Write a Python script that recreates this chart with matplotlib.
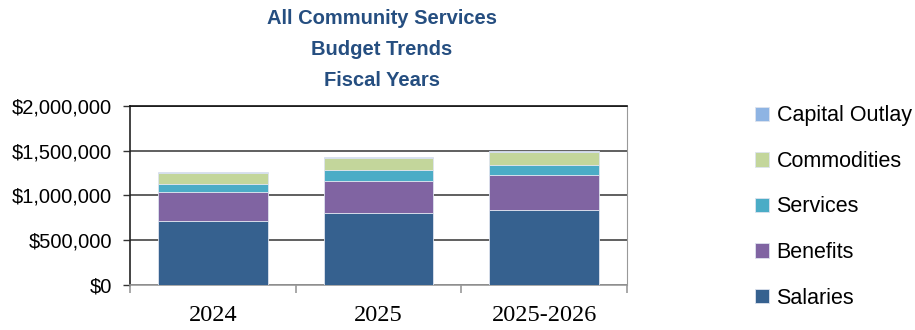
import matplotlib.pyplot as plt
import numpy as np
from matplotlib.ticker import FuncFormatter, FixedLocator

years = ["2024", "2025", "2025-2026"]
salaries = [712000, 802000, 840000]
benefits = [325000, 363000, 388000]
services = [86000, 115000, 116000]
commodities = [123000, 138000, 138000]
capital = [10000, 8000, 11000]

series = [("Salaries", salaries, "#36618F"),
          ("Benefits", benefits, "#8064A2"),
          ("Services", services, "#4BACC6"),
          ("Commodities", commodities, "#C3D69B"),
          ("Capital Outlay", capital, "#8EB4E3")]

fig = plt.figure(figsize=(9.15, 3.3), dpi=100)
ax = fig.add_axes([130/915, 45.5/330, 497/915, 178.5/330])

x = np.arange(len(years))
bottom = np.zeros(len(years))
handles = []
for name, vals, col in series:
    h = ax.bar(x, vals, 0.66, bottom=bottom, color=col, edgecolor="#dde3ee",
               linewidth=0.6, label=name, zorder=3)
    handles.append(h)
    bottom += np.array(vals)

ax.set_xlim(-0.5, 2.5)
ax.set_ylim(0, 2000000)
ax.set_yticks([0, 500000, 1000000, 1500000, 2000000])
ax.yaxis.set_major_formatter(FuncFormatter(lambda v, p: "${:,.0f}".format(v)))
ax.grid(axis="y", color="#444444", linewidth=1.2, zorder=0)
ax.tick_params(axis="y", labelsize=14.5, length=5, width=1, color="#333333", pad=8)
for t in ax.get_yticklabels():
    t.set_fontfamily("Liberation Sans")

ax.set_xticks(x)
ax.set_xticklabels(years, fontfamily="Liberation Serif", fontsize=17.5)
ax.tick_params(axis="x", which="major", length=0, pad=15)
ax.xaxis.set_minor_locator(FixedLocator([-0.5, 0.5, 1.5, 2.5]))
ax.tick_params(axis="x", which="minor", length=6, width=1.2, color="#999999")

ax.spines["left"].set_color("#222222")
ax.spines["left"].set_linewidth(1.2)
ax.spines["top"].set_color("#111111")
ax.spines["top"].set_linewidth(1.2)
ax.spines["right"].set_color("#999999")
ax.spines["bottom"].set_color("#999999")
ax.spines["bottom"].set_linewidth(1.2)

fig.text(382/915, 1 - 9/330, "All Community Services\nBudget Trends\nFiscal Years",
         ha="center", va="top", fontsize=14.5, fontweight="bold",
         color="#254E80", fontfamily="Liberation Sans", linespacing=1.8)

fig.legend(handles[::-1], [s[0] for s in series][::-1], loc="center left",
           bbox_to_anchor=(755/915, 1 - 207/330), frameon=False,
           prop={"family": "Liberation Sans", "size": 15.5},
           handlelength=0.65, handleheight=0.65, handletextpad=0.35,
           labelspacing=1.14, borderaxespad=0, borderpad=0)

fig.savefig("out.png", dpi=100)
